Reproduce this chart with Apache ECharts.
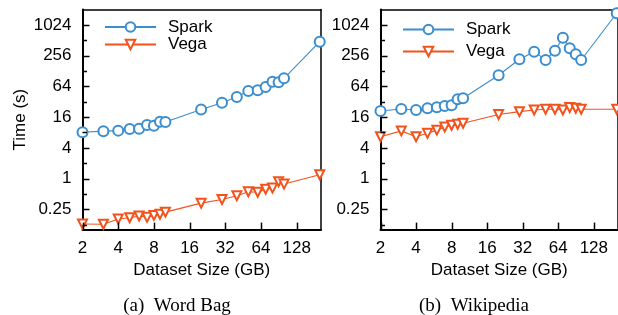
<!DOCTYPE html>
<html>
<head>
<meta charset="utf-8">
<script src="https://cdn.jsdelivr.net/npm/echarts@6/dist/echarts.min.js"></script>
<style>
html,body{margin:0;padding:0;background:#fff;}
#chart{width:618px;height:315px;}
</style>
</head>
<body>
<div id="chart"></div>
<script>
// Dataset sizes (GB)
const sizes = [2, 3, 4, 5, 6, 7, 8, 9, 10, 20, 30, 40, 50, 60, 70, 80, 90, 100, 200];
// (a) Word Bag, time in seconds
const wordBagSpark = [8.1, 8.5, 8.7, 9.4, 9.5, 11.2, 10.9, 13.0, 12.8, 22.5, 30.7, 39.7, 52, 53.7, 62.4, 79, 77, 92, 481];
const wordBagVega = [0.129, 0.127, 0.161, 0.171, 0.185, 0.174, 0.19, 0.2, 0.22, 0.33, 0.39, 0.46, 0.55, 0.54, 0.62, 0.65, 0.87, 0.78, 1.19];
// (b) Wikipedia, time in seconds
const wikiSpark = [21.1, 23.1, 22.1, 23.9, 25, 26.5, 27.3, 35.8, 37.5, 106, 218, 307, 211, 321, 576, 357, 273, 211, 1737];
const wikiVega = [6.6, 8.6, 6.6, 7.7, 8.9, 10.2, 11.1, 11.6, 12.1, 18, 20.5, 22.1, 22.8, 22.8, 22.1, 24.6, 23.9, 22.8, 22.8];
// Tick labels
const xTickLabels = [2, 4, 8, 16, 32, 64, 128];
const yTickLabels = [0.25, 1, 4, 16, 64, 256, 1024];
const yMinorTicks = [0.125, 0.5, 2, 8, 32, 128, 512];
const captions = ['(a)  Word Bag', '(b)  Wikipedia'];
const xRange = [2, 205];
const yRange = [0.1, 2048];

const L2 = v => Math.log2(v);
const SPARK = '#3a8dcf';
const VEGA = '#f2531d';
const FONT = 'Liberation Sans';
const FS = 17;

const chart = echarts.init(document.getElementById('chart'), null, {renderer: 'canvas'});

const gridPos = [
  {left: 82.5, top: 9.6, width: 238.5, height: 220},
  {left: 380.5, top: 9.6, width: 238.5, height: 220}
];
const grids = gridPos.map(g => Object.assign({show: false}, g));

function fmt(v) {
  const p = Math.pow(2, v);
  return String(Math.round(p * 10000) / 10000);
}

const xAxes = [];
const yAxes = [];
[0, 1].forEach(i => {
  xAxes.push({
    type: 'value', gridIndex: i, position: 'bottom',
    min: L2(xRange[0]), max: L2(xRange[1]),
    name: 'Dataset Size (GB)', nameLocation: 'middle', nameGap: 29,
    nameTextStyle: {fontFamily: FONT, fontSize: FS, color: '#000'},
    axisLine: {show: true, onZero: false, lineStyle: {color: '#000', width: 2}},
    axisTick: {show: false},
    axisLabel: {show: true, margin: 10, fontFamily: FONT, fontSize: FS, color: '#000', customValues: xTickLabels.map(L2), formatter: fmt},
    splitLine: {show: false}
  });
  xAxes.push({
    type: 'value', gridIndex: i, position: 'top',
    min: L2(xRange[0]), max: L2(xRange[1]),
    axisLine: {show: true, onZero: false, lineStyle: {color: '#000', width: 1.5}},
    axisTick: {show: false}, axisLabel: {show: false}, splitLine: {show: false}
  });
  yAxes.push({
    type: 'value', gridIndex: i, position: 'left',
    min: L2(yRange[0]), max: L2(yRange[1]),
    name: i === 0 ? 'Time (s)' : '', nameLocation: 'middle', nameGap: 54,
    nameTextStyle: {fontFamily: FONT, fontSize: FS, color: '#000'},
    axisLine: {show: true, onZero: false, lineStyle: {color: '#000', width: 2}},
    axisTick: {show: false},
    axisLabel: {show: true, margin: 11, fontFamily: FONT, fontSize: FS, color: '#000', customValues: yTickLabels.map(L2), formatter: fmt},
    splitLine: {show: false}
  });
  yAxes.push({
    type: 'value', gridIndex: i, position: 'right', offset: 0,
    min: L2(yRange[0]), max: L2(yRange[1]),
    axisLine: {show: true, onZero: false, lineStyle: {color: '#000', width: 1.5}},
    axisTick: {show: false}, axisLabel: {show: false}, splitLine: {show: false}
  });
});

function mk(name, vals, gi, color, symbol, rotate, size) {
  return {
    name: name, type: 'line', xAxisIndex: gi * 2, yAxisIndex: gi * 2,
    data: sizes.map((s, k) => [L2(s), L2(vals[k])]),
    symbol: symbol, symbolSize: size, symbolRotate: rotate,
    showAllSymbol: true,
    lineStyle: {color: color, width: 1.1},
    itemStyle: {color: color, borderColor: color, borderWidth: 1.2},
    emphasis: {disabled: true},
    clip: false,
    z: 3
  };
}

const series = [
  mk('Spark', wordBagSpark, 0, SPARK, 'emptyCircle', 0, 10),
  mk('Vega', wordBagVega, 0, VEGA, 'emptyTriangle', 180, 9),
  mk('Spark', wikiSpark, 1, SPARK, 'emptyCircle', 0, 10),
  mk('Vega', wikiVega, 1, VEGA, 'emptyTriangle', 180, 9)
];

function leg(name, left, top) {
  return {
    data: [name], left: left, top: top, padding: 0,
    itemWidth: 51, itemHeight: 12, selectedMode: false,
    textStyle: {fontFamily: FONT, fontSize: FS, color: '#000', padding: [0, 0, 0, 7]}
  };
}

const captionEls = [
  {type: 'text', x: 177, y: 306, style: {text: captions[0], align: 'center', verticalAlign: 'middle', font: '19px "Liberation Serif", "Times New Roman", serif', fill: '#000'}},
  {type: 'text', x: 474, y: 306, style: {text: captions[1], align: 'center', verticalAlign: 'middle', font: '19px "Liberation Serif", "Times New Roman", serif', fill: '#000'}}
];

chart.setOption({
  animation: false,
  backgroundColor: '#fff',
  grid: grids,
  xAxis: xAxes,
  yAxis: yAxes,
  series: series,
  legend: [
    leg('Spark', 104, 18.5),
    leg('Vega', 104, 36),
    leg('Spark', 402, 21),
    leg('Vega', 402, 43)
  ],
  graphic: captionEls
});

// Inside tick marks, positioned through each panel's own scales
const tickEls = [];
function tickLine(x1, y1, x2, y2) {
  return {type: 'line', z: 10, silent: true, shape: {x1: x1, y1: y1, x2: x2, y2: y2}, style: {stroke: '#000', lineWidth: 1.5}};
}
[0, 1].forEach(i => {
  const finder = {seriesIndex: i * 2};
  const origin = chart.convertToPixel(finder, [L2(xRange[0]), L2(yRange[0])]);
  if (!origin) return;
  const xLeft = origin[0], yBottom = origin[1];
  xTickLabels.forEach(t => {
    const p = chart.convertToPixel(finder, [L2(t), L2(yRange[0])]);
    const px = Math.round(p[0]) + 0.5;
    tickEls.push(tickLine(px, yBottom, px, yBottom - 7));
  });
  yTickLabels.forEach(t => {
    const p = chart.convertToPixel(finder, [L2(xRange[0]), L2(t)]);
    const py = Math.round(p[1]) + 0.5;
    tickEls.push(tickLine(xLeft, py, xLeft + 7, py));
  });
  yMinorTicks.forEach(t => {
    const p = chart.convertToPixel(finder, [L2(xRange[0]), L2(t)]);
    const py = Math.round(p[1]) + 0.5;
    tickEls.push(tickLine(xLeft, py, xLeft + 4.5, py));
  });
});
chart.setOption({graphic: captionEls.concat(tickEls)});
</script>
</body>
</html>
